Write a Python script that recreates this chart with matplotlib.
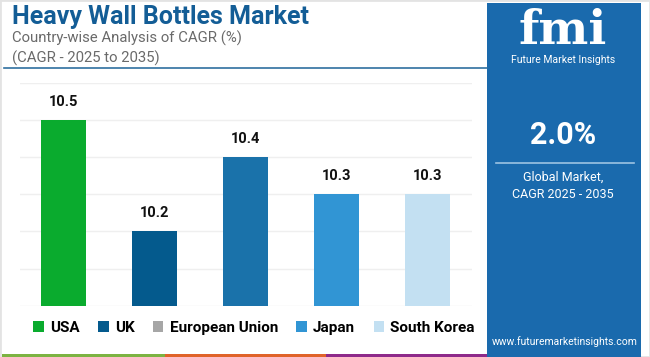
import matplotlib
matplotlib.use("Agg")
import matplotlib.pyplot as plt
from matplotlib.patches import Rectangle, Patch
from matplotlib.lines import Line2D
import numpy as np

# ---- data ----
countries = ["USA", "UK", "European Union", "Japan", "South Korea"]
cagr = [10.5, 10.2, 10.4, 10.3, 10.3]
bar_colors = ["#0aab2e", "#045a8d", "#1a72aa", "#3195d4", "#c3e0f2"]
legend_colors = ["#0aab2e", "#045a8d", "#a6a6a6", "#3195d4", "#c3e0f2"]
y_ticks = [10.0, 10.1, 10.2, 10.3, 10.4, 10.5, 10.6]
title = "Heavy Wall Bottles Market"
subtitle1 = "Country-wise Analysis of CAGR (%)"
subtitle2 = "(CAGR - 2025 to 2035)"
global_cagr = "2.0%"
global_label = "Global Market,\nCAGR 2025 - 2035"
website = "www.futuremarketinsights.com"

plt.rcParams['font.family'] = ['Roboto', 'DejaVu Sans']

W, H = 650, 357
fig = plt.figure(figsize=(W / 100, H / 100), dpi=100)
fig.patch.set_facecolor("white")

def fx(px):
    return px / W

def fy(py):
    return 1 - py / H

# outer light border
fig.add_artist(Rectangle((0, 0), 1, 1, transform=fig.transFigure, fill=False,
                         edgecolor="#e3e3e3", linewidth=2))

# ---- main axes ----
ax = fig.add_axes([fx(20), fy(305.7), fx(472 - 20), (305.7 - 82.7) / H])
x = np.arange(len(countries))
bars = ax.bar(x, cagr, width=0.495, color=bar_colors, zorder=2)
ax.set_ylim(y_ticks[0], y_ticks[-1])
ax.set_xlim(-0.478, len(countries) - 1 + 0.489)
ax.set_yticks(y_ticks)
ax.grid(axis="y", color="#efefef", linewidth=1, zorder=0)
ax.tick_params(left=False, bottom=False, labelleft=False, labelbottom=False)
for s in ax.spines.values():
    s.set_visible(False)
for xi, v in zip(x, cagr):
    ax.annotate(f"{v:.1f}", (xi, v), xytext=(0, 8), textcoords="offset points",
                ha="center", va="bottom", fontsize=10.5, fontweight="bold", color="#111111")

# ---- titles ----
fig.text(fx(12), fy(17), title, fontsize=18, fontweight="bold", color="#135d96",
         ha="left", va="center")
fig.text(fx(12), fy(38.5), subtitle1, fontsize=10.7, color="#6a6a6a", ha="left", va="center")
fig.text(fx(12), fy(58), subtitle2, fontsize=10.7, color="#6a6a6a", ha="left", va="center")
fig.add_artist(Line2D([fx(4), fx(487)], [fy(67.7), fy(67.7)], transform=fig.transFigure,
                      color="#2f6f9f", linewidth=1.2))

# ---- legend ----
handles = [Patch(facecolor=c, edgecolor="none") for c in legend_colors]
fig.legend(handles, countries, loc="center", bbox_to_anchor=(fx(254), fy(328)), ncol=5,
           frameon=False, handlelength=0.7, handleheight=0.7, handletextpad=0.4,
           columnspacing=1.2, prop={"weight": "bold", "size": 11})

# ---- bottom strip ----
strip = [("#7cb342", 2, 165), ("#e0632a", 165, 326), ("#8e2a8a", 326, 487)]
for c, a, b in strip:
    fig.add_artist(Rectangle((fx(a), 0), fx(b - a), 3.5 / H, transform=fig.transFigure,
                             facecolor=c, edgecolor="none"))

# ---- right panel ----
panel_c = "#1a6aad"
fig.add_artist(Rectangle((fx(487), 0), fx(641 - 487), 1 - 3 / H, transform=fig.transFigure,
                         facecolor=panel_c, edgecolor="none"))
# logo
fig.text(fx(563), fy(31), "fmi", fontsize=34, fontweight="bold", color="white",
         ha="center", va="center", family=["DejaVu Serif"])
for yy in np.arange(15, 50, 4):
    fig.add_artist(Line2D([fx(505), fx(622)], [fy(yy), fy(yy)], transform=fig.transFigure,
                          color=panel_c, linewidth=1.0))
fig.text(fx(563), fy(60), "Future Market Insights", fontsize=7.5, color="white",
         ha="center", va="center")
fig.text(fx(563), fy(135), global_cagr, fontsize=22, fontweight="bold", color="white",
         ha="center", va="center")
fig.add_artist(Line2D([fx(496), fx(634)], [fy(163), fy(163)], transform=fig.transFigure,
                      color="#9cc3e3", linewidth=1.2))
fig.text(fx(563), fy(186), global_label, fontsize=9, color="white", ha="center",
         va="center", linespacing=1.45)
fig.text(fx(565), fy(342), website, fontsize=7.5, color="white", ha="center", va="center")

fig.savefig("out.png", dpi=100, facecolor="white")
